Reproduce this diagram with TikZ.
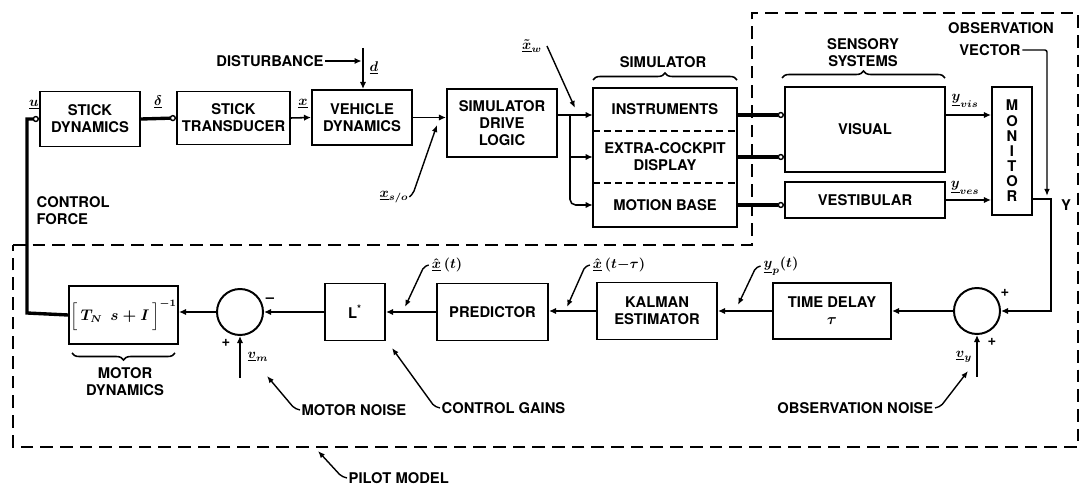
\documentclass[tikz,border=0pt]{standalone}
\usepackage{fontspec}
\setmainfont{TeX Gyre Heros}
\usepackage{amsmath}
\usetikzlibrary{arrows.meta, positioning, decorations.pathreplacing, calc}
\tikzset{
    base/.style = {
        draw=black, line width=1.4pt, align=center, inner sep=1pt,
        font=\fontsize{10.5}{12}\selectfont\bfseries
    },
    % Blocks
    block/.style   = {base, rectangle},
    sumjunc/.style = {draw=black, line width=1.4pt, circle, minimum size=1.15cm, inner sep=0pt},
    part/.style    = {rectangle, align=center, inner sep=1pt, font=\fontsize{10.5}{12}\selectfont\bfseries},
    % Texts
    tag/.style = {font=\fontsize{10.5}{12}\selectfont\bfseries, align=left, inner sep=1pt},
    sig/.style = {font=\boldmath\fontsize{10}{12}\selectfont, inner sep=0.5pt},
    % Edges and annotations
    arrow/.style    = {line width=1.1pt, -{Latex[length=5pt,width=4.5pt]}},
    heavy/.style    = {line width=2.4pt, -{Circle[open,length=4.5pt,width=4.5pt,line width=1pt]}},
    pointer/.style  = {line width=1pt, rounded corners=1.5pt, -{Latex[length=5pt,width=4pt]}},
    boundary/.style = {line width=1.4pt, dash pattern=on 9pt off 5pt},
    brace/.style    = {line width=1.1pt, decorate, decoration={brace, amplitude=5pt}}
}

\begin{document}
\begin{tikzpicture}[x=0.025cm, y=-0.025cm]
    \useasboundingbox (0,0) rectangle (1086,491);

    % Vehicle chain (top row)
    \node (stickdyn) [block, minimum width=2.5cm, minimum height=1.375cm] at (90,119) {STICK\\DYNAMICS};
    \node (sticktrans) [block, minimum width=2.825cm, minimum height=1.325cm] at (233.5,118) {STICK\\TRANSDUCER};
    \node (vehicle) [block, minimum width=2.5cm, minimum height=1.375cm] at (362,117.5) {VEHICLE\\DYNAMICS};
    \node (sdl) [block, minimum width=2.75cm, minimum height=1.7cm] at (502,123) {SIMULATOR\\DRIVE\\LOGIC};

    % Simulator, split in three parts
    \node (instr) [part, minimum width=3.6cm, minimum height=1.075cm] at (665,109.5) {INSTRUMENTS};
    \node (extra) [part, minimum width=3.6cm, minimum height=1.3cm] at (665,157) {EXTRA-COCKPIT\\DISPLAY};
    \node (motion) [part, minimum width=3.6cm, minimum height=1.1cm] at (665,205) {MOTION BASE};
    \draw[line width=1.4pt] (instr.north west) rectangle (motion.south east);
    \draw[line width=1.2pt, dash pattern=on 5pt off 3pt] (instr.south west) -- (instr.south east);
    \draw[line width=1.2pt, dash pattern=on 5pt off 3pt] (extra.south west) -- (extra.south east);

    % Sensory systems and monitor
    \node (visual) [block, minimum width=4cm, minimum height=2.125cm] at (865,129.5) {VISUAL};
    \node (vestib) [block, minimum width=4cm, minimum height=0.9cm] at (865,200) {VESTIBULAR};
    \node (monitor) [block, minimum width=1cm, minimum height=3.2cm,
        font=\fontsize{10.5}{10.8}\selectfont\bfseries] at (1012,151) {M\\O\\N\\I\\T\\O\\R};

    % Pilot model (bottom row)
    \node (sum2) [sumjunc] at (977,311) {};
    \node (timedelay) [block, minimum width=2.95cm, minimum height=1.4cm] at (832,311) {TIME DELAY\\$\boldsymbol{\tau}$};
    \node (kalman) [block, minimum width=3cm, minimum height=1.425cm] at (657,311) {KALMAN\\ESTIMATOR};
    \node (predictor) [block, minimum width=2.775cm, minimum height=1.425cm] at (492.5,312) {PREDICTOR};
    \node (lstar) [block, minimum width=1.5cm, minimum height=1.425cm] at (355,312) {L\textsuperscript{*}};
    \node (sum1) [sumjunc] at (240,312) {};
    \node (motordyn) [block, minimum width=2.575cm, minimum height=1.45cm] at (123.5,315) {$\boldsymbol{\Big[\,T_N\;\, s+I\,\Big]^{-1}}$};

    % Pilot model boundary
    \draw[boundary] (13,245) -- (752,245) -- (752,13) -- (1078,13) -- (1078,447) -- (13,447) -- cycle;

    % Braces and titles
    \draw[brace] (593,80) -- (737,80);
    \node (simtitle) [tag] at (663,62) {SIMULATOR};
    \draw[brace] (782,78) -- (945,78);
    \node (senstitle) [tag, align=center] at (863,53) {SENSORY\\SYSTEMS};
    \draw[brace, decoration={brace, mirror, amplitude=5pt}] (72,353) -- (175,353);
    \node (motortitle) [tag, align=center] at (125,382) {MOTOR\\DYNAMICS};

    % Top row connections
    \coordinate (cfcorner) at (27,313);
    \draw[heavy] (motordyn.west) -- (cfcorner) |- (stickdyn.west);
    \node (ulab) [sig] at (34,105) {$\underline{u}$};
    \node (cforce) [tag, anchor=west] at (35,211) {CONTROL\\FORCE};
    \draw[heavy] (stickdyn.east) -- (sticktrans.west);
    \node (dlab) [sig] at (158,102) {$\underline{\delta}$};
    \draw[arrow] (sticktrans.east) -- (vehicle.west);
    \node (xlab) [sig] at (303,104) {$\underline{x}$};
    \draw[arrow] (vehicle.east) -- (vehicle.east -| sdl.west);

    % Disturbance
    \node (dist) [tag] at (270,61) {DISTURBANCE};
    \coordinate (dtop) at (363,48);
    \draw[arrow] (dist.east) -- ([xshift=-1pt]dist.east -| dtop);
    \draw[arrow] (dtop) -- (dtop |- vehicle.north);
    \node (dsig) [sig] at (374,68) {$\underline{d}$};

    % Simulator drive outputs
    \coordinate (split) at (570,115);
    \draw[line width=1.1pt] (sdl.east |- split) -- (split);
    \draw[arrow] (split) -- (split -| instr.west);
    \draw[arrow] (split) |- (extra.west);
    \draw[arrow, rounded corners=4pt] (split) |- (motion.west);
    \node (xw) [sig] at (532,46) {$\tilde{\underline{x}}_{w}$};
    \coordinate (xwtip) at (575,108);
    \draw[pointer] ([xshift=3pt]xw.east) -- (xwtip);
    \node (xso) [sig] at (394,197) {$\underline{x}_{s/o}$};
    \coordinate (xsotip) at (437,125);
    \draw[pointer] (xso.east) -- ++(4,-4) -- (xsotip);

    % Simulator to senses to monitor
    \draw[heavy] (instr.east |- split) -- (visual.west |- split);
    \draw[heavy] (extra.east) -- (extra.east -| visual.west);
    \draw[heavy] (motion.east) -- (motion.east -| vestib.west);
    \draw[arrow] (visual.east |- split) -- (monitor.west |- split);
    \node (yvis) [sig] at (965,101) {$\underline{y}_{vis}$};
    \draw[arrow] (vestib.east) -- (vestib.east -| monitor.west);
    \node (yves) [sig] at (965,188) {$\underline{y}_{ves}$};

    % Observation vector
    \node (obs1) [tag] at (1001,28) {OBSERVATION};
    \node (obs2) [tag] at (990,50) {VECTOR};
    \coordinate (obstip) at (1047,196);
    \draw[pointer] (obs2.east) -| (obstip);
    \coordinate (ycorner) at (1051,199);
    \draw[arrow] (monitor.east |- ycorner) -- (ycorner) |- (sum2.east);
    \node (ylab) [tag] at (1066,205) {Y};

    % Bottom row connections
    \draw[arrow] (sum2.west) -- (timedelay.east);
    \draw[arrow] (timedelay.west) -- (timedelay.west -| kalman.east);
    \draw[arrow] (kalman.west) -- (kalman.west -| predictor.east);
    \draw[arrow] (predictor.west) -- (lstar.east);
    \draw[arrow] (lstar.west) -- (sum1.east);
    \draw[arrow] (sum1.west) -- (sum1.west -| motordyn.east);

    % Noise inputs and signs
    \coordinate (vmstart) at (240,378);
    \draw[arrow] (vmstart) -- (sum1.south);
    \node (vm) [sig] at (258,357) {$\underline{v}_m$};
    \node (minus1) [tag] at (270,300) {--};
    \node (plus1) [tag] at (226,343) {+};
    \coordinate (vystart) at (977,377);
    \draw[arrow] (vystart) -- (sum2.south);
    \node (vy) [sig] at (964,357) {$\underline{v}_y$};
    \node (plus2) [tag] at (1005,293) {+};
    \node (plus3) [tag] at (992,342) {+};

    % Signal labels
    \node (xhat) [sig] at (447,265) {$\hat{\underline{x}}\,(t)$};
    \coordinate (xhattip) at (405,307);
    \draw[pointer] ([xshift=-1.5pt]xhat.west) -- ++(-5,2) -- (xhattip);
    \node (xhatd) [sig] at (619,265) {$\hat{\underline{x}}\,(t{-}\tau)$};
    \coordinate (xhatdtip) at (567,307);
    \draw[pointer] ([xshift=-1.5pt]xhatd.west) -- ++(-5,2) -- (xhatdtip);
    \node (yp) [sig] at (781,266) {$\underline{y}_p(t)$};
    \coordinate (yptip) at (738,305);
    \draw[pointer] ([xshift=-1.5pt]yp.west) -- ++(-5,2) -- (yptip);

    % Annotations
    \node (mnoise) [tag, anchor=west] at (300,410) {MOTOR NOISE};
    \coordinate (mntip) at (267,376);
    \draw[pointer] (mnoise.west) -- ++(-6,-2) -- (mntip);
    \node (cgains) [tag, anchor=west] at (440,408) {CONTROL GAINS};
    \coordinate (cgtip) at (392,348);
    \draw[pointer] (cgains.west) -- ++(-6,-2) -- (cgtip);
    \node (onoise) [tag, anchor=east] at (935,408) {OBSERVATION NOISE};
    \coordinate (ontip) at (968,371);
    \draw[pointer] (onoise.east) -- ++(6,-2) -- (ontip);
    \node (pilot) [tag, anchor=west] at (347,478) {PILOT MODEL};
    \coordinate (pmtip) at (318,451);
    \draw[pointer] (pilot.west) -- ++(-6,-2) -- (pmtip);
\end{tikzpicture}
\end{document}
